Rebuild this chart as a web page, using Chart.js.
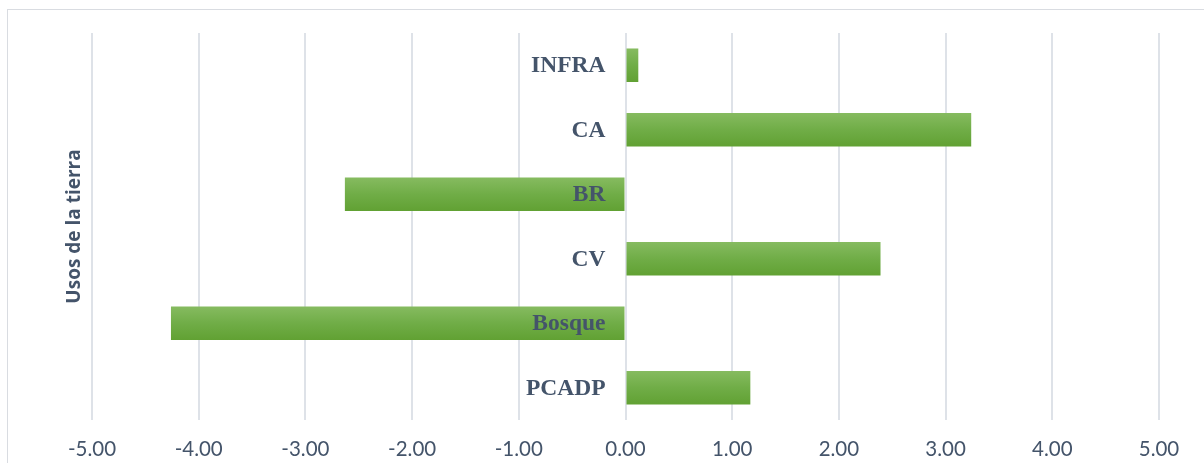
<!DOCTYPE html>
<html>
<head>
<meta charset="utf-8">
<script src="https://cdn.jsdelivr.net/npm/chart.js@4/dist/chart.umd.min.js"></script>
<style>
  html, body { margin: 0; padding: 0; background: #fff; }
  #wrap { position: relative; width: 1204px; height: 463px; overflow: hidden; }
  #frame { position: absolute; left: 7px; top: 9px; width: 1210px; height: 470px; border: 1px solid #D9DCE1; box-sizing: border-box; }
  #chart { position: absolute; left: 0; top: 0; }
</style>
</head>
<body>
<div id="wrap">
  <div id="frame"></div>
  <canvas id="chart" width="1204" height="463"></canvas>
</div>
<script>
// Land use categories, top to bottom
const categories = ["INFRA", "CA", "BR", "CV", "Bosque", "PCADP"];
const values = [0.12, 3.24, -2.63, 2.39, -4.26, 1.17];
const xTicks = [-5, -4, -3, -2, -1, 0, 1, 2, 3, 4, 5];

const textColor = "#44546A";
const barPct = 0.52;

// gradient per bar: lighter on top, darker at the bottom
function barFill(ctx) {
    const chart = ctx.chart;
    const y = chart.scales.y;
    if (!y || !chart.chartArea) return "#70AD47";
    const c = y.getPixelForValue(ctx.dataIndex);
    const band = (chart.chartArea.bottom - chart.chartArea.top) / categories.length;
    const half = band * barPct / 2;
    const g = chart.ctx.createLinearGradient(0, c - half, 0, c + half);
    g.addColorStop(0, "#86BB60");
    g.addColorStop(0.5, "#70AD47");
    g.addColorStop(1, "#61A133");
    return g;
}

// category names drawn next to the zero line
const zeroLabels = {
    id: "zeroLabels",
    afterDatasetsDraw(chart) {
        const ctx = chart.ctx;
        const x0 = chart.scales.x.getPixelForValue(0);
        ctx.save();
        ctx.font = "bold 23.5px 'Liberation Serif', 'Times New Roman', serif";
        ctx.fillStyle = textColor;
        ctx.textAlign = "right";
        ctx.textBaseline = "middle";
        categories.forEach((name, i) => {
            ctx.fillText(name, x0 - 20, chart.scales.y.getPixelForValue(i) + 1);
        });
        ctx.restore();
    }
};

new Chart(document.getElementById("chart"), {
    type: "bar",
    data: {
        labels: categories,
        datasets: [{
            data: values,
            backgroundColor: barFill,
            borderWidth: 0,
            barPercentage: barPct,
            categoryPercentage: 1
        }]
    },
    options: {
        indexAxis: "y",
        responsive: false,
        animation: false,
        layout: { padding: { top: 33, right: 45, bottom: 0, left: 0 } },
        plugins: {
            legend: { display: false },
            tooltip: { enabled: false }
        },
        scales: {
            x: {
                min: -5,
                max: 5,
                afterBuildTicks(scale) {
                    scale.ticks = xTicks.map(v => ({ value: v }));
                },
                afterFit(scale) { scale.height = 43; },
                ticks: {
                    callback: v => v.toFixed(2),
                    color: textColor,
                    font: { family: "Lato, 'Open Sans', sans-serif", size: 20.5 },
                    padding: 17,
                    maxRotation: 0
                },
                grid: { color: "#DEE2E8", lineWidth: 2, drawTicks: false },
                border: { display: false }
            },
            y: {
                ticks: { display: false },
                grid: { display: false },
                border: { display: false },
                afterFit(scale) { scale.width = 92; },
                title: {
                    display: true,
                    text: "Usos de la tierra",
                    color: textColor,
                    font: { family: "'Open Sans', sans-serif", size: 19, weight: "bold" },
                    padding: { top: 63, bottom: 0 }
                }
            }
        }
    },
    plugins: [zeroLabels]
});
</script>
</body>
</html>
